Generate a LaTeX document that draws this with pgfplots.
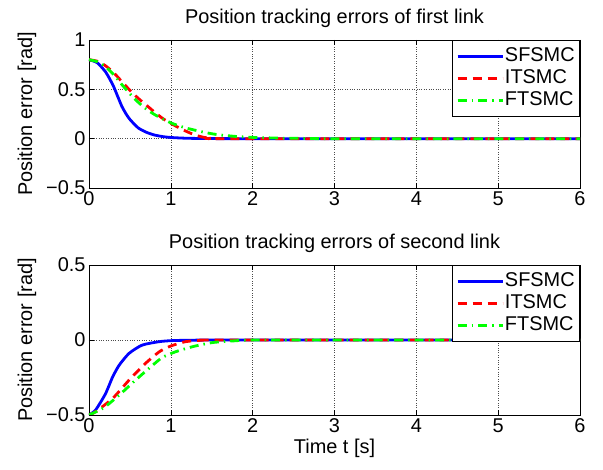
\documentclass[border=0pt]{standalone}
\usepackage{fontspec}
\setmainfont{Liberation Sans}
\usepackage{pgfplots}
\pgfplotsset{compat=1.18}
\definecolor{mblue}{RGB}{0,0,255}
\definecolor{mred}{RGB}{255,0,0}
\definecolor{mgreen}{RGB}{0,255,0}
\pgfplotsset{myax/.style={
  scale only axis, width=491bp,
  xmin=0, xmax=6, xtick={0,1,2,3,4,5,6},
  grid=major,
  major grid style={dotted, black!70, line width=0.5pt},
  tick align=inside, major tick length=5bp,
  axis line style={line width=0.6pt},
  tick style={line width=0.5pt, black},
  /pgf/number format/assume math mode=true,
  tick label style={font=\fontsize{20}{24}\selectfont},
  label style={font=\fontsize{20}{24}\selectfont},
  ylabel shift=3bp,
  title style={font=\fontsize{20}{24}\selectfont, yshift=3bp},
  legend style={at={(1,1)}, anchor=north east, draw=black, line width=0.6pt,
    font=\fontsize{20}{24}\selectfont, inner xsep=4bp, inner ysep=6bp,
    row sep=2bp, nodes={inner sep=1bp, text height=14bp, text depth=4bp}},
  legend cell align=left,
  every axis plot/.append style={line width=2.8bp, line join=round},
}}
\begin{document}
\begin{tikzpicture}
\useasboundingbox (-89bp,-55bp) rectangle (514bp,415bp);
\begin{axis}[myax, at={(0bp,227bp)}, anchor=south west, height=148bp,
  ymin=-0.5, ymax=1, ytick={-0.5,0,0.5,1}, yticklabels={−0.5,0,0.5,1},
  title={Position tracking errors of first link},
  ylabel={Position error [rad]},
  legend image code/.code={\draw[#1] (0bp,0bp) -- (45bp,0bp);}]
\addplot[mblue, smooth, tension=0.4] coordinates {
(0,0.8)(0.1,0.77)(0.2,0.68)(0.25,0.61)(0.3,0.53)(0.35,0.43)(0.4,0.33)(0.45,0.255)(0.5,0.195)(0.6,0.11)(0.7,0.065)(0.8,0.037)(0.9,0.021)(1.0,0.012)(1.2,0.004)(1.5,0.001)(2,0)(6,0)};
\addlegendentry{SFSMC}
\addplot[mred, dash pattern=on 9bp off 6bp, smooth, tension=0.4] coordinates {
(0,0.8)(0.1,0.785)(0.2,0.74)(0.3,0.67)(0.4,0.58)(0.5,0.49)(0.6,0.41)(0.7,0.34)(0.8,0.27)(0.9,0.205)(1.0,0.155)(1.1,0.11)(1.2,0.07)(1.3,0.036)(1.4,0.014)(1.5,0.004)(1.7,0)(6,0)};
\addlegendentry{ITSMC}
\addplot[mgreen, dash pattern=on 9bp off 5bp on 1.5bp off 5bp, smooth, tension=0.4] coordinates {
(0,0.8)(0.1,0.78)(0.2,0.73)(0.3,0.65)(0.4,0.55)(0.5,0.455)(0.6,0.37)(0.7,0.30)(0.8,0.245)(0.9,0.2)(1.0,0.16)(1.1,0.13)(1.2,0.105)(1.3,0.085)(1.4,0.066)(1.5,0.05)(1.6,0.038)(1.8,0.022)(2.0,0.013)(2.3,0.006)(2.7,0.002)(3,0)(6,0)};
\addlegendentry{FTSMC}
\end{axis}
\begin{axis}[myax, at={(0bp,0bp)}, anchor=south west, height=150bp,
  ymin=-0.5, ymax=0.5, ytick={-0.5,0,0.5}, yticklabels={−0.5,0,0.5},
  title={Position tracking errors of second link},
  ylabel={Position error [rad]},
  xlabel={Time t [s]},
  legend image code/.code={\draw[#1] (0bp,0bp) -- (45bp,0bp);}]
\addplot[mblue, smooth, tension=0.4] coordinates {
(0,-0.5)(0.08,-0.467)(0.2,-0.36)(0.29,-0.245)(0.37,-0.167)(0.49,-0.089)(0.65,-0.034)(0.86,-0.011)(1.02,-0.004)(1.3,-0.001)(2,0)(6,0)};
\addlegendentry{SFSMC}
\addplot[mred, dash pattern=on 9bp off 6bp, smooth, tension=0.4] coordinates {
(0,-0.5)(0.08,-0.478)(0.29,-0.389)(0.49,-0.267)(0.69,-0.156)(0.86,-0.078)(1.0,-0.04)(1.18,-0.011)(1.4,-0.001)(1.6,0)(6,0)};
\addlegendentry{ITSMC}
\addplot[mgreen, dash pattern=on 9bp off 5bp on 1.5bp off 5bp, smooth, tension=0.4] coordinates {
(0,-0.5)(0.1,-0.475)(0.2,-0.444)(0.37,-0.367)(0.57,-0.267)(0.78,-0.167)(0.9,-0.115)(1.06,-0.078)(1.27,-0.044)(1.51,-0.017)(1.8,-0.005)(2.2,0)(6,0)};
\addlegendentry{FTSMC}
\end{axis}
\end{tikzpicture}
\end{document}
